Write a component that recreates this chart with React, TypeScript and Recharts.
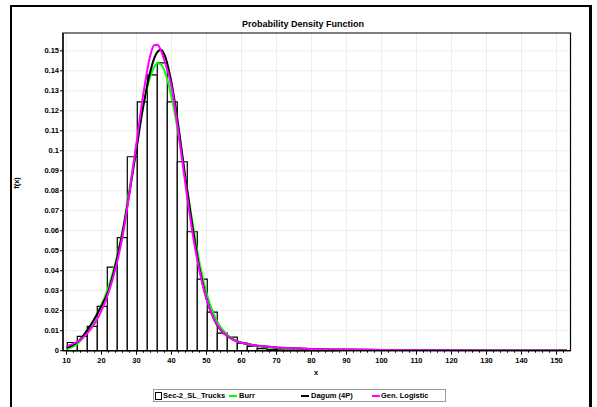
import React from "react";
import {
  ComposedChart,
  Line,
  XAxis,
  YAxis,
  CartesianGrid,
  ReferenceArea,
} from "recharts";

// Histogram of observed densities: bin edges and heights
const binEdges = [
  10.23, 13.09, 15.94, 18.8, 21.66, 24.51, 27.37, 30.23, 33.08, 35.94, 38.8,
  41.65, 44.51, 47.37, 50.22, 53.08, 55.94, 58.79, 61.65, 64.51, 67.36, 70.22,
  73.08, 75.93, 78.79, 81.65, 84.5, 87.36,
];
const binDensity = [
  0.0041, 0.0072, 0.0122, 0.0222, 0.0418, 0.0566, 0.097, 0.1245, 0.138, 0.144,
  0.1245, 0.0945, 0.0595, 0.0358, 0.0193, 0.0088, 0.0068, 0.0038, 0.0022,
  0.001, 0.0006, 0.0004, 0.0004, 0.0002, 0.0002, 0.0002, 0.0002,
];

// Fitted density curves evaluated at these x values
const xs = [
  10, 12, 14, 16, 18, 20, 22, 24, 26, 28, 30, 32, 34, 35, 36, 37, 38, 40, 42,
  44, 46, 48, 50, 52, 54, 56, 58, 60, 63, 66, 70, 75, 80, 90, 100, 115, 130,
  153,
];
const burr = [
  0.0008, 0.0022, 0.005, 0.0095, 0.0155, 0.023, 0.032, 0.044, 0.06, 0.081,
  0.103, 0.123, 0.1375, 0.1418, 0.1438, 0.1432, 0.14, 0.127, 0.108, 0.086,
  0.064, 0.044, 0.029, 0.0185, 0.0118, 0.0078, 0.0054, 0.0039, 0.0026, 0.0019,
  0.0013, 0.0009, 0.0007, 0.0004, 0.0003, 0.0002, 0.0001, 0.0001,
];
const dagum = [
  0.0015, 0.003, 0.0058, 0.0105, 0.016, 0.0225, 0.03, 0.043, 0.059, 0.079,
  0.101, 0.123, 0.14, 0.146, 0.1495, 0.1505, 0.148, 0.134, 0.112, 0.086, 0.062,
  0.041, 0.026, 0.0162, 0.0104, 0.0072, 0.0052, 0.004, 0.0029, 0.0022,
  0.0016, 0.0012, 0.0009, 0.0006, 0.0004, 0.00025, 0.00015, 0.0001,
];
const genLogistic = [
  0.0022, 0.0035, 0.0055, 0.0088, 0.0135, 0.02, 0.029, 0.041, 0.057, 0.079,
  0.104, 0.129, 0.148, 0.1528, 0.153, 0.15, 0.145, 0.132, 0.109, 0.083, 0.059,
  0.04, 0.0258, 0.0165, 0.0107, 0.0072, 0.0052, 0.004, 0.0029, 0.0022,
  0.0016, 0.0012, 0.0009, 0.0006, 0.0004, 0.00025, 0.00015, 0.0001,
];

const xTicks = [10, 20, 30, 40, 50, 60, 70, 80, 90, 100, 110, 120, 130, 140, 150];
const xMinorTicks = [
  10, 12, 14, 16, 18, 20, 22, 24, 26, 28, 30, 32, 34, 36, 38, 40, 42, 44, 46,
  48, 50, 52, 54, 56, 58, 60, 62, 64, 66, 68, 70, 72, 74, 76, 78, 80, 82, 84,
  86, 88, 90, 92, 94, 96, 98, 100, 102, 104, 106, 108, 110, 112, 114, 116, 118,
  120, 122, 124, 126, 128, 130, 132, 134, 136, 138, 140, 142, 144, 146, 148,
  150, 152,
];
const yTicks = [
  0, 0.01, 0.02, 0.03, 0.04, 0.05, 0.06, 0.07, 0.08, 0.09, 0.1, 0.11, 0.12,
  0.13, 0.14, 0.15,
];

const curveData = xs.map((x, i) => ({
  x,
  burr: burr[i],
  dagum: dagum[i],
  genLogistic: genLogistic[i],
}));

const bins = binDensity.map((d, i) => ({
  x1: binEdges[i],
  x2: binEdges[i + 1],
  d,
}));

const FONT = '"Liberation Sans", Arial, sans-serif';
const X_MIN = 9;
const X_MAX = 154;
const Y_MAX = 0.1589;

const XTick = (props: any) => {
  const { x, y, payload } = props;
  const major = xTicks.includes(payload.value);
  return (
    <g>
      <line x1={x} y1={y} x2={x} y2={y + (major ? 4 : 2)} stroke="#000" strokeWidth={1} />
      {major && (
        <text
          x={x}
          y={y + 12}
          textAnchor="middle"
          fontSize={7.5}
          fontWeight="bold"
          fontFamily={FONT}
          fill="#000"
        >
          {payload.value}
        </text>
      )}
    </g>
  );
};

const LegendLine = ({ color }: { color: string }) => (
  <span
    style={{
      display: "inline-block",
      width: 8,
      height: 2,
      background: color,
      position: "absolute",
      top: 5,
      left: 0,
    }}
  />
);

export default function App() {
  const text: React.CSSProperties = {
    position: "absolute",
    fontFamily: FONT,
    fontWeight: "bold",
    color: "#000",
    whiteSpace: "nowrap",
    lineHeight: 1,
  };
  return (
    <div
      style={{
        position: "absolute",
        left: 0,
        top: 0,
        width: 597,
        height: 407,
        background: "#fff",
        overflow: "hidden",
      }}
    >
      <div
        style={{
          position: "absolute",
          left: 10,
          top: 5,
          width: 577,
          height: 430,
          borderLeft: "2px solid #000",
          borderTop: "2px solid #000",
          borderRight: "3px solid #000",
        }}
      />
      <ComposedChart
        width={597}
        height={407}
        data={curveData}
        margin={{ top: 33, right: 26.5, bottom: 36.3, left: 13 }}
        style={{ position: "absolute", left: 0, top: 0 }}
      >
        <CartesianGrid
          stroke="#ececec"
          strokeWidth={1}
          horizontalValues={yTicks}
          verticalValues={xTicks}
        />
        <XAxis
          dataKey="x"
          type="number"
          domain={[X_MIN, X_MAX]}
          ticks={xMinorTicks}
          interval={0}
          allowDataOverflow
          height={20}
          tickSize={0}
          tickMargin={0}
          tickLine={false}
          tick={<XTick />}
          axisLine={{ stroke: "#000", strokeWidth: 1.2 }}
        />
        <YAxis
          type="number"
          domain={[0, Y_MAX]}
          ticks={yTicks}
          interval={0}
          allowDataOverflow
          width={50}
          tickSize={3}
          tickMargin={1}
          tickLine={{ stroke: "#000" }}
          axisLine={{ stroke: "#000", strokeWidth: 1.2 }}
          tickFormatter={(v: number) => String(+v.toFixed(2))}
          tick={{ fontSize: 7.5, fontWeight: "bold", fontFamily: FONT, fill: "#000" }}
        />
        {bins.map((b, i) => (
          <ReferenceArea
            key={i}
            x1={b.x1}
            x2={b.x2}
            y1={0}
            y2={b.d}
            fill="#fff"
            fillOpacity={1}
            stroke="#000"
            strokeWidth={1.2}
            ifOverflow="visible"
          />
        ))}
        <ReferenceArea
          x1={X_MIN}
          x2={X_MAX}
          y1={0}
          y2={Y_MAX}
          fill="none"
          stroke="#000"
          strokeWidth={1.2}
          ifOverflow="visible"
        />
        <Line
          type="monotone"
          dataKey="burr"
          stroke="#00ff00"
          strokeWidth={2}
          dot={false}
          isAnimationActive={false}
        />
        <Line
          type="monotone"
          dataKey="dagum"
          stroke="#000000"
          strokeWidth={2}
          dot={false}
          isAnimationActive={false}
        />
        <Line
          type="monotone"
          dataKey="genLogistic"
          stroke="#ff00ff"
          strokeWidth={2}
          dot={false}
          isAnimationActive={false}
        />
      </ComposedChart>

      <div style={{ ...text, fontSize: 9, left: 303, top: 20, transform: "translateX(-50%)" }}>
        Probability Density Function
      </div>
      <div style={{ ...text, fontSize: 7.5, left: 316, top: 369, transform: "translateX(-50%)" }}>
        x
      </div>
      <div
        style={{
          ...text,
          fontSize: 7.5,
          left: 17,
          top: 183,
          transform: "translate(-50%, -50%) rotate(-90deg)",
        }}
      >
        f(x)
      </div>

      <div
        style={{
          position: "absolute",
          left: 153,
          top: 389,
          width: 291,
          height: 11,
          border: "1px solid #9a9a9a",
          background: "#fff",
          fontFamily: FONT,
          fontWeight: "bold",
          fontSize: 7.5,
          color: "#000",
        }}
      >
        <div style={{ position: "absolute", left: 1, top: 2, width: 5, height: 6, border: "1px solid #000" }} />
        <div style={{ ...text, fontSize: 7.5, left: 9, top: 2 }}>Sec-2_SL_Trucks</div>
        <div style={{ position: "absolute", left: 75, top: 0, height: 11 }}>
          <LegendLine color="#00ff00" />
          <div style={{ ...text, fontSize: 7.5, left: 10, top: 2 }}>Burr</div>
        </div>
        <div style={{ position: "absolute", left: 147, top: 0, height: 11 }}>
          <LegendLine color="#000000" />
          <div style={{ ...text, fontSize: 7.5, left: 10, top: 2 }}>Dagum (4P)</div>
        </div>
        <div style={{ position: "absolute", left: 217.5, top: 0, height: 11 }}>
          <LegendLine color="#ff00ff" />
          <div style={{ ...text, fontSize: 7.5, left: 9.5, top: 2 }}>Gen. Logistic</div>
        </div>
      </div>
    </div>
  );
}
